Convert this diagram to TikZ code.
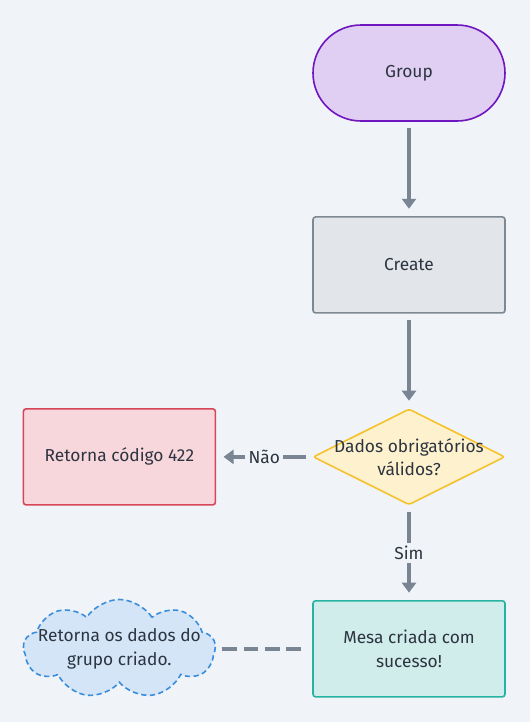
\documentclass[tikz,border=0pt]{standalone}
\usepackage{fontspec}
\setmainfont{Fira Sans}
\usepackage{xcolor}
\usetikzlibrary{arrows.meta,positioning,shapes.geometric,shapes.symbols}
\definecolor{pagebg}{HTML}{F0F3F7}
\definecolor{inktext}{HTML}{2C3440}
\definecolor{flowgray}{HTML}{7A8594}
\definecolor{startfill}{HTML}{E1CFF3}
\definecolor{startline}{HTML}{7016C0}
\definecolor{procfill}{HTML}{E2E6EA}
\definecolor{procline}{HTML}{7E8893}
\definecolor{askfill}{HTML}{FEF1CE}
\definecolor{askline}{HTML}{F6C22C}
\definecolor{errfill}{HTML}{F8D7DC}
\definecolor{errline}{HTML}{D64558}
\definecolor{okfill}{HTML}{D1EDEB}
\definecolor{okline}{HTML}{27B3A2}
\definecolor{notefill}{HTML}{D3E5F6}
\definecolor{noteline}{HTML}{3A8EDD}

\begin{document}
\begin{tikzpicture}[
    font=\fontsize{13}{17.5}\selectfont,
    text=inktext,
    node distance=70.75pt and 72pt,
    box/.style={
        rectangle,
        rounded corners=2pt,
        line width=1.2pt,
        minimum width=144pt,
        minimum height=72pt,
        align=center
    },
    startbox/.style={box, rounded corners=36pt, draw=startline, fill=startfill},
    procbox/.style={box, draw=procline, fill=procfill},
    errbox/.style={box, draw=errline, fill=errfill},
    okbox/.style={box, draw=okline, fill=okfill},
    askbox/.style={
        diamond,
        rounded corners=2pt,
        line width=1.2pt,
        draw=askline,
        fill=askfill,
        inner sep=0pt,
        minimum width=144pt,
        minimum height=72pt
    },
    notebox/.style={
        cloud,
        cloud puffs=9,
        cloud puff arc=115,
        aspect=2,
        inner sep=0pt,
        minimum width=144pt,
        minimum height=74pt,
        line width=1.2pt,
        dash pattern=on 4pt off 2.5pt,
        draw=noteline,
        fill=notefill
    },
    flow/.style={
        -{Triangle[length=7.5pt,width=10.5pt]},
        line width=3pt,
        draw=flowgray,
        shorten <=4.5pt,
        shorten >=5.5pt
    },
    link/.style={
        line width=3pt,
        draw=flowgray,
        dash pattern=on 11pt off 5pt,
        shorten <=4.5pt,
        shorten >=4.5pt
    },
    tag/.style={fill=pagebg, inner sep=2.5pt}
]
    \fill[pagebg] (0,0) rectangle (397.5pt,-541.5pt);
    \useasboundingbox (0,0) rectangle (397.5pt,-541.5pt);

    \node[startbox] (group) at (306.75pt,-54.75pt) {Group};
    \node[procbox, below=of group] (create) {Create};
    \node[askbox, below=of create,
        label={[align=center, text=inktext]center:Dados obrigatórios\\válidos?}] (check) {};
    \node[errbox, left=of check] (fail) {Retorna código 422};
    \node[okbox, below=of check] (created) {Mesa criada com\\sucesso!};
    \node[notebox, left=of created,
        label={[align=center, text=inktext]center:Retorna os dados do\\grupo criado.}] (reply) {};

    \draw[flow] (group) -- (create);
    \draw[flow] (create) -- (check);
    \draw[flow] (check) -- node[tag]{Não} (fail);
    \draw[flow] (check) -- node[tag]{Sim} (created);
    \draw[link] (reply) -- (created);
\end{tikzpicture}
\end{document}
